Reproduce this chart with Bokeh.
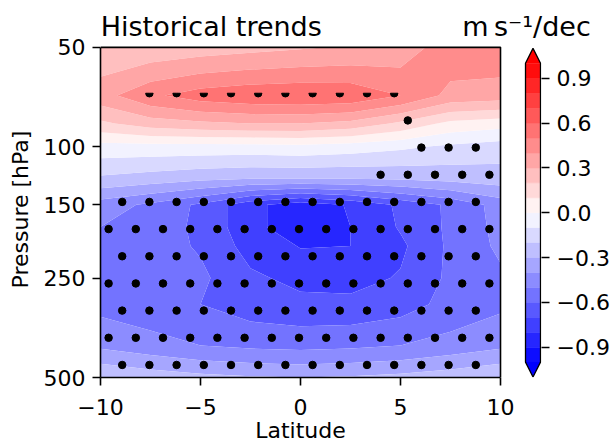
import numpy as np
from bokeh.plotting import figure
from bokeh.models import (Range1d, LinearAxis, LinearScale, FixedTicker,
                          CustomJSTickFormatter)
from bokeh.embed import file_html
from bokeh.resources import INLINE

# ---------------- data ----------------
lats = [-10, -7.5, -5, -2.5, 0, 2.5, 5, 7.5, 10]
plevs = [50, 70, 85, 100, 125, 150, 175, 200, 250, 300, 400, 500]

trend_50 = [0.22, 0.23, 0.25, 0.27, 0.29, 0.31, 0.34, 0.46, 0.47]
trend_70 = [0.36, 0.48, 0.55, 0.58, 0.59, 0.58, 0.50, 0.37, 0.35]
trend_85 = [0.18, 0.25, 0.28, 0.30, 0.30, 0.27, 0.18, 0.07, 0.04]
trend_100 = [-0.04, -0.04, -0.04, -0.04, -0.03, -0.05, -0.08, -0.12, -0.15]
trend_125 = [-0.22, -0.25, -0.28, -0.30, -0.30, -0.30, -0.29, -0.27, -0.25]
trend_150 = [-0.45, -0.52, -0.62, -0.77, -0.86, -0.79, -0.68, -0.58, -0.46]
trend_175 = [-0.50, -0.55, -0.62, -0.77, -0.86, -0.80, -0.69, -0.58, -0.47]
trend_200 = [-0.53, -0.56, -0.61, -0.74, -0.805, -0.80, -0.72, -0.58, -0.48]
trend_250 = [-0.55, -0.57, -0.58, -0.68, -0.73, -0.74, -0.69, -0.58, -0.52]
trend_300 = [-0.53, -0.56, -0.60, -0.65, -0.67, -0.67, -0.64, -0.57, -0.52]
trend_400 = [-0.42, -0.46, -0.50, -0.52, -0.53, -0.52, -0.50, -0.46, -0.42]
trend_500 = [-0.20, -0.24, -0.27, -0.29, -0.30, -0.29, -0.27, -0.24, -0.20]

pval_50 = [0.6, 0.6, 0.6, 0.6, 0.6, 0.6, 0.6, 0.6, 0.6]
pval_70 = [0.2, 0.025, 0.025, 0.025, 0.025, 0.025, 0.025, 0.15, 0.2]
pval_85 = [0.3, 0.13, 0.13, 0.13, 0.13, 0.13, 0.03, 0.1, 0.3]
pval_100 = [0.5, 0.5, 0.5, 0.5, 0.4, 0.2, 0.06, 0.03, 0.03]
pval_125 = [0.3, 0.3, 0.3, 0.2, 0.12, 0.05, 0.02, 0.02, 0.02]
pval_150 = [0.005] * 9
pval_175 = [0.005] * 9
pval_200 = [0.005] * 9
pval_250 = [0.005] * 9
pval_300 = [0.005] * 9
pval_400 = [0.005] * 9
pval_500 = [0.005] * 9
sig_level = 0.05

levels = [round(-1.0 + 0.1 * i, 1) for i in range(21)]
xticks = [-10, -5, 0, 5, 10]
yticks = [50, 100, 150, 250, 500]
cbticks = [-0.9, -0.6, -0.3, 0.0, 0.3, 0.6, 0.9]

title_text = "Historical trends"
unit_text = "m\u2009s\u207b\u00b9/dec"
xlabel = "Latitude"
ylabel = "Pressure [hPa]"

trend = np.array([trend_50, trend_70, trend_85, trend_100, trend_125, trend_150,
                  trend_175, trend_200, trend_250, trend_300, trend_400, trend_500])
pval = np.array([pval_50, pval_70, pval_85, pval_100, pval_125, pval_150,
                 pval_175, pval_200, pval_250, pval_300, pval_400, pval_500])


# bwr colormap
def bwr(v):
    t = (v + 1) / 2
    if t < 0.5:
        r = g = 2 * t
        b = 1.0
    else:
        r = 1.0
        g = b = 2 * (1 - t)
    return "#%02x%02x%02x" % (int(round(r * 255)), int(round(g * 255)), int(round(b * 255)))


palette = [bwr(0.5 * (levels[i] + levels[i + 1])) for i in range(len(levels) - 1)]
over_color = bwr(1.0)
under_color = bwr(-1.0)

FONT = "DejaVu Sans"

p = figure(frame_width=441, frame_height=336,
           x_range=Range1d(-10, 12.05), y_range=Range1d(500, 48),
           y_axis_type="log", output_backend="svg", toolbar_location=None,
           min_border_left=100, min_border_right=70, min_border_top=41,
           min_border_bottom=66)
p.outline_line_color = None
p.grid.visible = False
p.background_fill_color = "white"
p.border_fill_color = "white"
xa = p.xaxis[0]
ya = p.yaxis[0]

# filled contours
p.contour(x=lats, y=plevs, z=trend, levels=levels, fill_color=palette, line_color=None)

# stippling (hatch-like regular staggered grid)
hatch_dlat = 1.36
hatch_dlogp = 0.0823
hatch_lat0 = -10.275
hatch_logp0 = np.log10(68.86)
half_off = 0.006


def sig_at(la, pr):
    col = [np.interp(la, lats, pval[k]) for k in range(len(plevs))]
    return np.interp(pr, plevs, col) < sig_level


full_x, full_y, bot_x, bot_y, top_x, top_y = [], [], [], [], [], []
for k in range(-2, 14):
    lp = hatch_logp0 + k * hatch_dlogp
    pr = 10 ** lp
    if pr < plevs[0] or pr > plevs[-1]:
        continue
    off = 0.0 if k % 2 == 0 else hatch_dlat / 2
    for m in range(0, 20):
        la = hatch_lat0 + off + m * hatch_dlat
        if la < lats[0] or la > lats[-1]:
            continue
        if sig_at(la, pr):
            full_x.append(la); full_y.append(pr)
        elif sig_at(la, 10 ** (lp + half_off)):
            bot_x.append(la); bot_y.append(pr)
        elif sig_at(la, 10 ** (lp - half_off)):
            top_x.append(la); top_y.append(pr)

p.scatter(full_x, full_y, size=7.5, color="black")
p.wedge(bot_x, bot_y, radius=3.75, radius_units="screen", start_angle=np.pi,
        end_angle=2 * np.pi, color="black")
p.wedge(top_x, top_y, radius=3.75, radius_units="screen", start_angle=0,
        end_angle=np.pi, color="black")

# top / right spines
p.line(x=[lats[0], lats[-1], lats[-1]], y=[plevs[0], plevs[0], plevs[-1]],
       line_color="black", line_width=1.6)

# colorbar
p.extra_y_ranges = {"cb": Range1d(-1.103, 1.146)}
p.extra_y_scales = {"cb": LinearScale()}
cb_l, cb_r = 11.25, 12.0
cb_c = 0.5 * (cb_l + cb_r)
ext = 0.1 * (levels[-1] - levels[0]) / 2
p.quad(left=cb_l, right=cb_r, bottom=levels[:-1], top=levels[1:], fill_color=palette,
       line_color=palette, line_width=0.5, y_range_name="cb")
p.patches(xs=[[cb_l, cb_r, cb_c], [cb_l, cb_r, cb_c]],
          ys=[[levels[-1], levels[-1], levels[-1] + ext], [levels[0], levels[0], levels[0] - ext]],
          fill_color=[over_color, under_color], line_color=None, y_range_name="cb")
p.patch(x=[cb_l, cb_c, cb_r, cb_r, cb_c, cb_l, cb_l],
        y=[levels[0], levels[0] - ext, levels[0], levels[-1], levels[-1] + ext, levels[-1], levels[0]],
        fill_color=None, line_color="black", line_width=1.3, y_range_name="cb")

fmt1 = CustomJSTickFormatter(code="var a = Math.abs(tick).toFixed(1); return (tick < -1e-9 ? '\u2212' : '') + a;")
fmt0 = CustomJSTickFormatter(code="var a = Math.abs(tick).toFixed(0); return (tick < -1e-9 ? '\u2212' : '') + a;")

cb_axis = LinearAxis(y_range_name="cb", ticker=FixedTicker(ticks=cbticks), formatter=fmt1)
p.add_layout(cb_axis, "right")

# title row: figure title (left) and colorbar unit (over the colorbar)
title_pos = -4.46
unit_pos = 11.3
top_axis = LinearAxis(ticker=FixedTicker(ticks=[title_pos, unit_pos]),
                      formatter=CustomJSTickFormatter(
                          args=dict(labels=[title_text, unit_text]),
                          code="return tick < 5 ? labels[0] : labels[1];"))
p.add_layout(top_axis, "above")

# x-axis label centred under the latitude span
xlab_axis = LinearAxis(ticker=FixedTicker(ticks=[0.5 * (lats[0] + lats[-1])]),
                       formatter=CustomJSTickFormatter(args=dict(lab=xlabel), code="return lab;"))
p.add_layout(xlab_axis, "below")

# axes style
for ax in [xa, ya, cb_axis, top_axis, xlab_axis]:
    ax.major_tick_out = 8
    ax.major_tick_in = 0
    ax.minor_tick_out = 0
    ax.minor_tick_in = 0
    ax.major_tick_line_width = 1.6
    ax.axis_line_width = 1.6
    ax.major_label_text_font = FONT
    ax.major_label_text_font_size = "22px"
    ax.major_label_text_color = "black"
    ax.axis_label_text_font = FONT
    ax.axis_label_text_font_size = "22px"
    ax.axis_label_text_font_style = "normal"
    ax.axis_label_text_color = "black"
    ax.major_label_standoff = 7
cb_axis.axis_line_color = None

for ax in [top_axis, xlab_axis]:
    ax.axis_line_color = None
    ax.major_tick_line_color = None
    ax.major_tick_out = 0
top_axis.major_label_text_font_size = "27px"
top_axis.major_label_standoff = 0
xlab_axis.major_label_standoff = 0

xa.ticker = FixedTicker(ticks=xticks)
xa.formatter = fmt0
xa.bounds = (lats[0], lats[-1])
xa.major_label_standoff = 13

ya.ticker = FixedTicker(ticks=yticks)
ya.formatter = CustomJSTickFormatter(code="return tick.toFixed(0);")
ya.bounds = (plevs[0], plevs[-1])
ya.axis_label = ylabel
ya.axis_label_standoff = 8

open("out.html", "w").write(file_html(p, INLINE))
